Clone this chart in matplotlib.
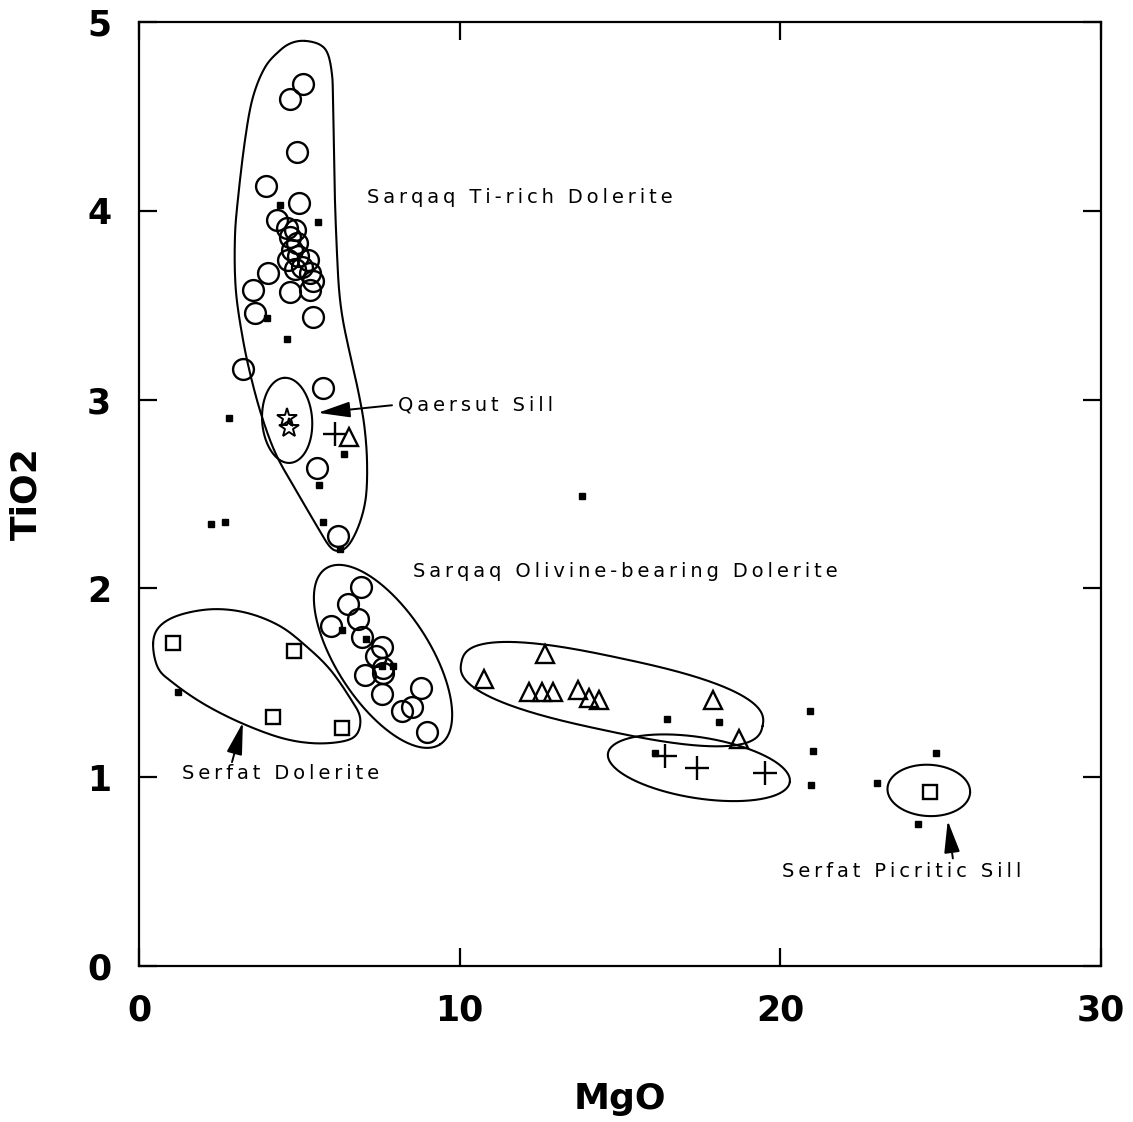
import numpy as np
import matplotlib
matplotlib.use("Agg")
import matplotlib.pyplot as plt

plt.rcParams['font.family'] = ['DejaVu Sans']

# ---- analyses (MgO, TiO2 wt%) ----
# Sarqaq Ti-rich dolerite (open circles)
ti_rich_mgo = [5.11, 4.71, 4.93, 3.96, 4.99, 4.30, 4.61, 4.86, 4.71, 4.93, 4.77, 4.96,
               4.65, 5.08, 5.27, 5.33, 5.43, 4.86, 4.02, 3.55, 3.62, 4.71, 5.33, 5.43,
               3.24, 5.74, 5.55, 6.21]
ti_rich_tio2 = [4.67, 4.59, 4.31, 4.13, 4.04, 3.95, 3.91, 3.90, 3.86, 3.83, 3.79, 3.76,
                3.74, 3.70, 3.74, 3.67, 3.63, 3.69, 3.67, 3.58, 3.46, 3.57, 3.58, 3.44,
                3.16, 3.06, 2.64, 2.28]

# Sarqaq olivine-bearing dolerite (open circles)
olivine_mgo = [6.92, 6.52, 6.83, 5.99, 6.95, 7.58, 7.39, 7.61, 7.05, 7.61, 7.58, 8.79,
               8.20, 8.51, 8.98]
olivine_tio2 = [2.01, 1.92, 1.84, 1.80, 1.74, 1.69, 1.64, 1.58, 1.54, 1.55, 1.44, 1.47,
                1.35, 1.37, 1.24]

# triangles
tri_mgo = [12.66, 10.76, 12.16, 12.57, 12.91, 13.69, 14.03, 14.34, 17.90, 18.71, 6.55]
tri_tio2 = [1.65, 1.52, 1.45, 1.45, 1.45, 1.46, 1.42, 1.41, 1.41, 1.20, 2.80]

# crosses
plus_mgo = [6.11, 16.40, 17.40, 19.52]
plus_tio2 = [2.82, 1.11, 1.05, 1.02]

# squares: Serfat dolerite and Serfat picritic sill
sq_mgo = [1.06, 4.83, 4.18, 6.33, 24.66]
sq_tio2 = [1.71, 1.67, 1.32, 1.26, 0.92]

# stars: Qaersut sill
star_mgo = [4.61, 4.68]
star_tio2 = [2.90, 2.85]

# small dots
dot_mgo = [4.40, 5.58, 3.99, 4.61, 2.81, 6.39, 5.61, 2.25, 2.68, 5.74, 6.27, 13.81,
           1.22, 6.33, 7.08, 7.92, 7.58, 16.09, 16.46, 18.09, 20.92, 21.02, 20.95,
           23.01, 24.85, 24.29]
dot_tio2 = [4.03, 3.94, 3.43, 3.32, 2.90, 2.71, 2.55, 2.34, 2.35, 2.35, 2.21, 2.49,
            1.45, 1.78, 1.73, 1.59, 1.59, 1.13, 1.31, 1.29, 1.35, 1.14, 0.96,
            0.97, 1.13, 0.75]

# field boundaries drawn by hand
ti_field_mgo = [5.18, 5.64, 5.89, 6.02, 6.05, 6.08, 6.11, 6.17, 6.24, 6.36, 6.58, 6.83,
                7.02, 7.11, 7.08, 6.89, 6.58, 6.27, 5.96, 5.55, 4.93, 4.30, 3.87, 3.52,
                3.24, 3.02, 2.99, 3.09, 3.31, 3.55, 3.93, 4.40, 4.77]
ti_field_tio2 = [4.90, 4.88, 4.83, 4.72, 4.59, 4.32, 4.06, 3.79, 3.58, 3.42, 3.24, 3.05,
                 2.87, 2.68, 2.49, 2.35, 2.24, 2.20, 2.22, 2.33, 2.51, 2.70, 2.89, 3.10,
                 3.32, 3.58, 3.85, 4.07, 4.38, 4.60, 4.76, 4.85, 4.89]
serfat_field_mgo = [0.44, 0.65, 1.28, 2.31, 3.37, 4.40, 5.24, 5.96, 6.58, 6.89, 6.80, 6.36,
                    5.43, 4.40, 3.15, 2.00, 1.06, 0.59]
serfat_field_tio2 = [1.71, 1.80, 1.86, 1.89, 1.87, 1.80, 1.69, 1.57, 1.42, 1.32, 1.23, 1.19,
                     1.18, 1.21, 1.29, 1.39, 1.50, 1.58]

# oval fields: centre MgO, centre TiO2, semi-axes (MgO units), tilt (deg), squareness
ovals = [
    (4.62, 2.89, 1.33, 0.78, 94, 2.0),     # Qaersut sill
    (7.61, 1.64, 3.27, 1.45, -57, 2.0),    # olivine-bearing dolerite
    (14.75, 1.44, 4.80, 1.15, -12, 2.6),   # triangle group
    (17.46, 1.05, 2.87, 0.95, -9, 2.0),    # cross group
    (24.63, 0.93, 1.29, 0.80, -3, 2.0),    # Serfat picritic sill
]

x_ticks = [0, 10, 20, 30]
y_ticks = [0, 1, 2, 3, 4, 5]

W, H = 1133, 1122
fig = plt.figure(figsize=(W / 100, H / 100), dpi=100)
ax = fig.add_axes([139 / W, 1 - 966 / H, 962 / W, 944 / H])
ax.set_xlim(0, 30)
ax.set_ylim(0, 5)

pos = ax.get_position()
K = (pos.height * H / 5) / (pos.width * W / 30)  # MgO units per TiO2 unit on screen

def outline_oval(cx, cy, a, b, ang, n):
    t = np.linspace(0, 2 * np.pi, 400)
    c, s = np.cos(t), np.sin(t)
    u = a * np.sign(c) * np.abs(c) ** (2 / n)
    v = b * np.sign(s) * np.abs(s) ** (2 / n)
    r = np.deg2rad(ang)
    dx = u * np.cos(r) - v * np.sin(r)
    dy = u * np.sin(r) + v * np.cos(r)
    return cx + dx, cy + dy / K

def smooth_closed(x, y, per=14):
    P = np.column_stack([x, np.asarray(y) * K])
    n = len(P)
    segs = []
    t = np.linspace(0, 1, per, endpoint=False)[:, None]
    for i in range(n):
        p0, p1, p2, p3 = P[i - 1], P[i], P[(i + 1) % n], P[(i + 2) % n]
        segs.append(0.5 * (2 * p1 + (-p0 + p2) * t
                           + (2 * p0 - 5 * p1 + 4 * p2 - p3) * t ** 2
                           + (-p0 + 3 * p1 - 3 * p2 + p3) * t ** 3))
    out = np.vstack(segs + [segs[0][:1]])
    return out[:, 0], out[:, 1] / K

line_kw = dict(color='black', lw=1.5, solid_capstyle='round')
for fx, fy in [(ti_field_mgo, ti_field_tio2), (serfat_field_mgo, serfat_field_tio2)]:
    sx, sy = smooth_closed(fx, fy)
    ax.plot(sx, sy, **line_kw)
for cx, cy, a, b, ang, n in ovals:
    ox, oy = outline_oval(cx, cy, a, b, ang, n)
    ax.plot(ox, oy, **line_kw)

open_kw = dict(linestyle='none', mfc='none', mec='black', color='black')
ax.plot(ti_rich_mgo, ti_rich_tio2, marker='o', ms=15, mew=1.7, **open_kw)
ax.plot(olivine_mgo, olivine_tio2, marker='o', ms=15, mew=1.7, **open_kw)
ax.plot(tri_mgo, tri_tio2, marker='^', ms=12.5, mew=1.7, **open_kw)
ax.plot(sq_mgo, sq_tio2, marker='s', ms=10, mew=1.7, **open_kw)
ax.plot(star_mgo, star_tio2, marker='*', ms=15, mew=1.4, **open_kw)
ax.plot(plus_mgo, plus_tio2, marker='+', ms=17, mew=1.7, **open_kw)
ax.plot(dot_mgo, dot_tio2, marker='s', ms=3.8, linestyle='none', color='black')

def spaced(s):
    return '\u2009'.join(s)

txt_kw = dict(fontsize=14, color='black', va='center', ha='left')
ax.text(7.11, 4.07, spaced('Sarqaq Ti-rich Dolerite'), **txt_kw)
ax.text(8.08, 2.97, spaced('Qaersut Sill'), **txt_kw)
ax.text(8.54, 2.09, spaced('Sarqaq Olivine-bearing Dolerite'), **txt_kw)
ax.text(1.34, 1.02, spaced('Serfat Dolerite'), **txt_kw)
ax.text(20.05, 0.50, spaced('Serfat Picritic Sill'), **txt_kw)

arrow_kw = dict(arrowstyle='-|>,head_length=0.9,head_width=0.22', color='black', lw=1.4,
                mutation_scale=22, shrinkA=0, shrinkB=0)
ax.annotate('', xy=(5.58, 2.93), xytext=(7.89, 2.97), arrowprops=arrow_kw)
ax.annotate('', xy=(3.24, 1.29), xytext=(2.90, 1.08), arrowprops=arrow_kw)
ax.annotate('', xy=(25.22, 0.77), xytext=(25.38, 0.57), arrowprops=arrow_kw)

for sp in ax.spines.values():
    sp.set_linewidth(1.6)
ax.set_xticks(x_ticks)
ax.set_yticks(y_ticks)
ax.set_xticklabels([str(v) for v in x_ticks])
ax.set_yticklabels([str(v) for v in y_ticks])
ax.tick_params(direction='in', length=13, width=1.6, top=True, right=True,
               labelsize=25, pad=20)
for lab in ax.get_xticklabels() + ax.get_yticklabels():
    lab.set_fontweight('heavy')

ax.set_xlabel('MgO', fontsize=26, fontweight='heavy')
ax.set_ylabel('TiO2', fontsize=26, fontweight='heavy')
ax.xaxis.set_label_coords(0.5, (966 - 1082) / 944)
ax.yaxis.set_label_coords((26 - 139) / 962, 0.5)
ax.yaxis.label.set_va('center')

fig.savefig('out.png', dpi=100, facecolor='white')
